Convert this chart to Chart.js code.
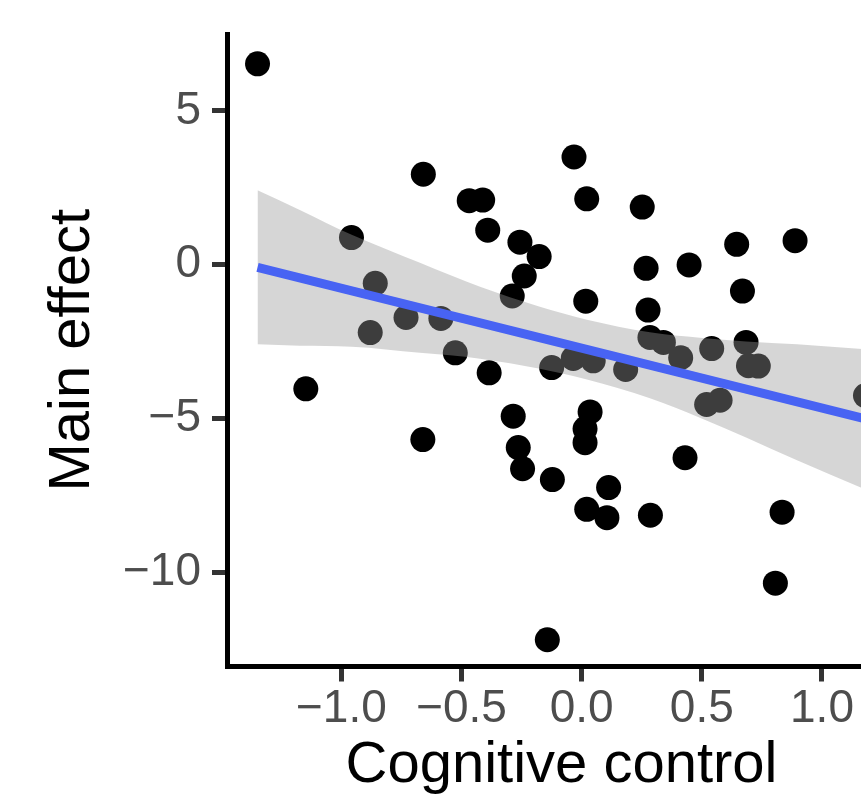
<!DOCTYPE html>
<html>
<head>
<meta charset="utf-8">
<script src="https://cdn.jsdelivr.net/npm/chart.js@4.4.1/dist/chart.umd.min.js"></script>
<style>
  html, body { margin: 0; padding: 0; background: #fff; overflow: hidden; }
  #wrap { width: 861px; height: 810px; overflow: hidden; }
</style>
</head>
<body>
<div id="wrap">
  <canvas id="chart" width="912" height="810"></canvas>
</div>
<script>
// scatter points
const cogX = [-1.349, -1.148, -0.958, -0.859, -0.880, -0.731, -0.659, -0.661, -0.586, -0.526,
  -0.468, -0.412, -0.391, -0.385, -0.289, -0.257, -0.239, -0.177, -0.285, -0.264,
  -0.246, -0.122, -0.143, -0.125, -0.032, 0.021, 0.017, -0.035, 0.048, 0.035,
  0.014, 0.014, 0.021, 0.105, 0.112, 0.183, 0.252, 0.268, 0.276, 0.284,
  0.340, 0.286, 0.412, 0.447, 0.430, 0.520, 0.541, 0.576, 0.645, 0.669,
  0.684, 0.694, 0.735, 0.888, 0.834, 0.806, 1.181];
const mainY = [6.53, -4.04, 0.88, -0.61, -2.21, -1.72, 2.94, -5.69, -1.75, -2.87,
  2.08, 2.10, 1.12, -3.52, -1.02, 0.73, -0.37, 0.26, -4.93, -5.95,
  -6.64, -6.99, -12.20, -3.35, 3.50, 2.14, -1.19, -3.05, -3.13, -4.79,
  -5.34, -5.79, -7.96, -8.23, -7.25, -3.41, 1.87, -0.12, -1.48, -2.37,
  -2.53, -8.15, -3.03, -0.01, -6.28, -4.55, -2.73, -4.41, 0.66, -0.86,
  -2.53, -3.29, -3.30, 0.78, -8.05, -10.36, -4.26];

// fitted line and its confidence band
const fitX = [-1.349, 1.181];
const fitY = [-0.09, -5.02];
const ribX = [-1.349, -1.173, -0.957, -0.673, -0.423, -0.174, 0.022, 0.284, 0.492, 0.684, 0.896, 1.181];
const ribUpper = [2.42, 1.78, 0.97, 0.06, -0.72, -1.37, -1.79, -2.20, -2.38, -2.50, -2.59, -2.75];
const ribLower = [-2.59, -2.64, -2.67, -2.87, -3.06, -3.39, -3.74, -4.35, -4.98, -5.62, -6.36, -7.31];

// axis ticks
const xTicks = [-1, -0.5, 0, 0.5, 1];
const xTickLabels = ['\u22121.0', '\u22120.5', '0.0', '0.5', '1.0'];
const yTicks = [-10, -5, 0, 5];
const yTickLabels = ['\u221210', '\u22125', '0', '5'];

const toPts = (xs, ys) => xs.map((x, i) => ({ x, y: ys[i] }));
const FONT = "'Liberation Sans', Arial, sans-serif";

const tickFont = { family: FONT, size: 46 };
const gridOpts = {
  display: true,
  drawOnChartArea: false,
  drawTicks: true,
  tickLength: 15,
  tickWidth: 5,
  tickColor: '#333333',
};
const borderOpts = { display: true, color: '#000000', width: 5 };

new Chart(document.getElementById('chart'), {
  type: 'scatter',
  data: {
    datasets: [
      {
        label: 'points',
        data: toPts(cogX, mainY),
        backgroundColor: '#000000',
        borderColor: '#000000',
        borderWidth: 0,
        pointRadius: 12.5,
        pointHoverRadius: 12.5,
        order: 3,
      },
      {
        label: 'lower',
        type: 'line',
        data: toPts(ribX, ribLower),
        borderColor: 'rgba(0,0,0,0)',
        borderWidth: 0,
        pointRadius: 0,
        fill: false,
        cubicInterpolationMode: 'monotone',
        order: 2,
      },
      {
        label: 'upper',
        type: 'line',
        data: toPts(ribX, ribUpper),
        borderColor: 'rgba(0,0,0,0)',
        borderWidth: 0,
        pointRadius: 0,
        fill: '-1',
        backgroundColor: 'rgba(153,153,153,0.4)',
        cubicInterpolationMode: 'monotone',
        order: 2,
      },
      {
        label: 'fit',
        type: 'line',
        data: toPts(fitX, fitY),
        borderColor: '#4863F3',
        borderWidth: 9,
        borderCapStyle: 'butt',
        pointRadius: 0,
        fill: false,
        order: 1,
      },
    ],
  },
  options: {
    responsive: false,
    animation: false,
    events: [],
    layout: { padding: { top: 34, right: 16, left: 0, bottom: 0 } },
    plugins: {
      legend: { display: false },
      tooltip: { enabled: false },
    },
    scales: {
      x: {
        type: 'linear',
        min: -1.476,
        max: 1.308,
        afterBuildTicks: scale => { scale.ticks = xTicks.map(value => ({ value })); },
        afterFit: scale => {
          scale.height = 143.5;
          scale.paddingLeft = 0;
          scale.paddingRight = 0;
        },
        ticks: {
          font: tickFont,
          color: '#4D4D4D',
          padding: 0,
          maxRotation: 0,
          callback: value => xTickLabels[xTicks.indexOf(value)],
        },
        grid: gridOpts,
        border: borderOpts,
        title: {
          display: true,
          text: 'Cognitive control',
          color: '#000000',
          font: { family: FONT, size: 58 },
          padding: { top: 0, bottom: 9 },
        },
      },
      y: {
        type: 'linear',
        min: -13.07,
        max: 7.5,
        afterBuildTicks: scale => { scale.ticks = yTicks.map(value => ({ value })); },
        afterFit: scale => {
          scale.width = 227;
          scale.paddingTop = 0;
          scale.paddingBottom = 0;
        },
        ticks: {
          font: tickFont,
          color: '#4D4D4D',
          padding: 11,
          callback: value => yTickLabels[yTicks.indexOf(value)],
        },
        grid: gridOpts,
        border: borderOpts,
        title: {
          display: true,
          text: 'Main effect',
          color: '#000000',
          font: { family: FONT, size: 58 },
          padding: { top: 38, bottom: 0 },
        },
      },
    },
  },
});
</script>
</body>
</html>
